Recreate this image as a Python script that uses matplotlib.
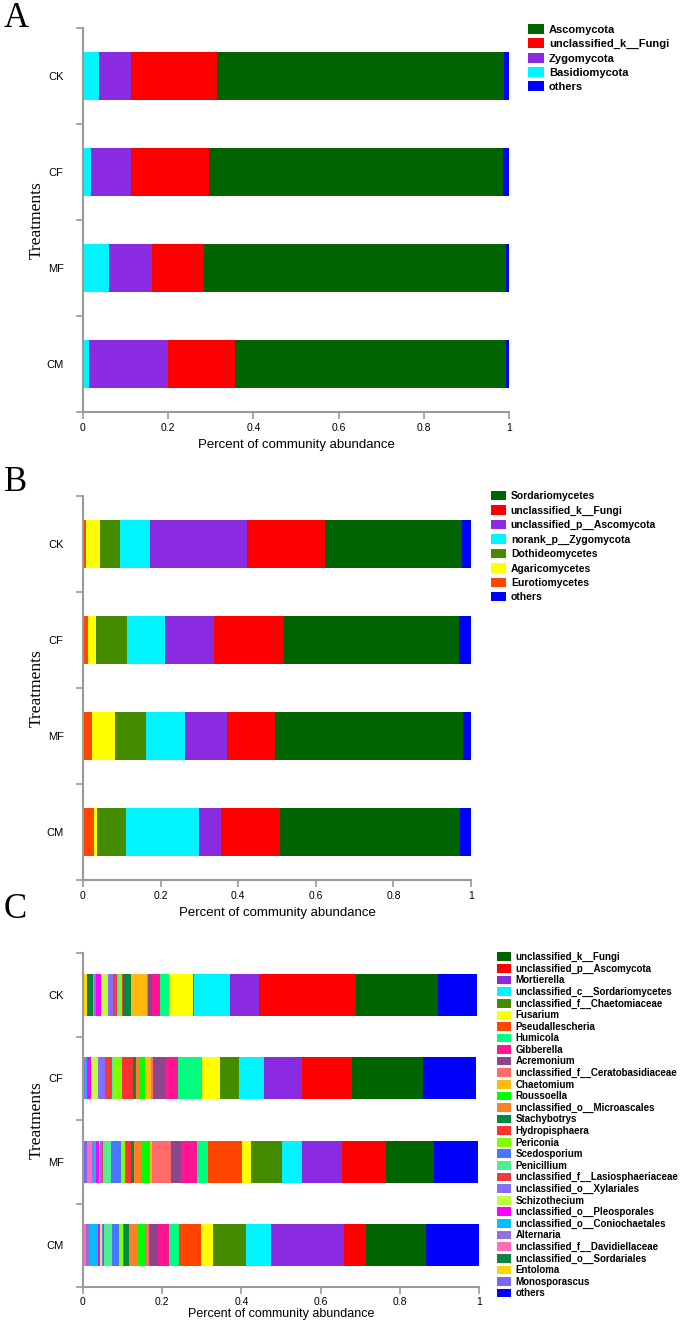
import numpy as np
import matplotlib
matplotlib.use("Agg")
import matplotlib.pyplot as plt
from matplotlib.patches import Patch

# -----------------------------
# DATA
# -----------------------------
treatments = ["CK", "CF", "MF", "CM"]

# panel A (phylum), legend order
phylum_names = ["Ascomycota", "unclassified_k__Fungi", "Zygomycota", "Basidiomycota", "others"]
phylum_colors = ["#006400", "#FF0000", "#8A2BE2", "#00F5FF", "#0000FF"]
phylum_CK = [0.674, 0.202, 0.074, 0.038, 0.012]
phylum_CF = [0.690, 0.183, 0.094, 0.019, 0.014]
phylum_MF = [0.709, 0.122, 0.101, 0.061, 0.007]
phylum_CM = [0.636, 0.157, 0.186, 0.014, 0.007]

# panel B (class)
class_names = ["Sordariomycetes", "unclassified_k__Fungi", "unclassified_p__Ascomycota",
               "norank_p__Zygomycota", "Dothideomycetes", "Agaricomycetes",
               "Eurotiomycetes", "others"]
class_colors = ["#006400", "#FF0000", "#8A2BE2", "#00F5FF", "#458B00", "#FFFF00",
                "#FF4500", "#0000FF"]
class_CK = [0.354, 0.202, 0.249, 0.078, 0.050, 0.036, 0.009, 0.022]
class_CF = [0.452, 0.179, 0.127, 0.098, 0.080, 0.019, 0.014, 0.031]
class_MF = [0.484, 0.124, 0.108, 0.101, 0.080, 0.059, 0.023, 0.021]
class_CM = [0.464, 0.152, 0.057, 0.188, 0.075, 0.008, 0.028, 0.028]

# panel C (genus)
genus_names = ["unclassified_k__Fungi", "unclassified_p__Ascomycota", "Mortierella",
               "unclassified_c__Sordariomycetes", "unclassified_f__Chaetomiaceae",
               "Fusarium", "Pseudallescheria", "Humicola", "Gibberella", "Acremonium",
               "unclassified_f__Ceratobasidiaceae", "Chaetomium", "Roussoella",
               "unclassified_o__Microascales", "Stachybotrys", "Hydropisphaera",
               "Periconia", "Scedosporium", "Penicillium",
               "unclassified_f__Lasiosphaeriaceae", "unclassified_o__Xylariales",
               "Schizothecium", "unclassified_o__Pleosporales",
               "unclassified_o__Coniochaetales", "Alternaria",
               "unclassified_f__Davidiellaceae", "unclassified_o__Sordariales",
               "Entoloma", "Monosporascus", "others"]
genus_colors = ["#006400", "#FF0000", "#8A2BE2", "#00F5FF", "#458B00",
                "#FFFF00", "#FF4500", "#00FF7F", "#FF1493", "#8B4789",
                "#FF6A6A", "#FFB90F", "#00FF00", "#FF7F24", "#008B45",
                "#FF3030", "#7FFF00", "#4876FF", "#4EEE94", "#EE3B3B",
                "#836FFF", "#C0FF3E", "#FF00FF", "#00BFFF", "#9370DB",
                "#FF6EB4", "#0E8040", "#FFD700", "#7B68EE", "#0000FF"]
genus_CK = [0.207, 0.245, 0.074, 0.090, 0.004, 0.061, 0.000, 0.021, 0.021, 0.010,
            0.003, 0.040, 0.000, 0.000, 0.020, 0.003, 0.008, 0.000, 0.003, 0.010,
            0.014, 0.017, 0.013, 0.000, 0.004, 0.005, 0.013, 0.010, 0.001, 0.099]
genus_CF = [0.179, 0.126, 0.095, 0.065, 0.048, 0.044, 0.000, 0.062, 0.032, 0.029,
            0.007, 0.015, 0.013, 0.009, 0.008, 0.027, 0.022, 0.000, 0.003, 0.019,
            0.018, 0.016, 0.011, 0.005, 0.002, 0.003, 0.000, 0.000, 0.000, 0.134]
genus_MF = [0.121, 0.111, 0.101, 0.050, 0.078, 0.023, 0.086, 0.027, 0.042, 0.025,
            0.049, 0.003, 0.024, 0.017, 0.008, 0.014, 0.012, 0.025, 0.020, 0.003,
            0.003, 0.004, 0.006, 0.008, 0.004, 0.012, 0.000, 0.000, 0.010, 0.111]
genus_CM = [0.152, 0.055, 0.185, 0.062, 0.084, 0.029, 0.057, 0.024, 0.028, 0.024,
            0.010, 0.000, 0.018, 0.022, 0.012, 0.004, 0.010, 0.017, 0.020, 0.003,
            0.003, 0.005, 0.003, 0.022, 0.010, 0.007, 0.000, 0.000, 0.000, 0.136]

# -----------------------------
# FIGURE
# -----------------------------
W, H = 685, 1324
fig = plt.figure(figsize=(W / 100, H / 100), dpi=100)
sans = "Liberation Sans"
serif = "Liberation Serif"
spine_col = "#9a9a9a"


def panel(rect_px, names, colors, rows, letter, letter_y, leg_px, leg_fs, leg_sp,
          xl_fs=9.5, xl_pad=4, xt_pad=3):
    x0, top, x1, bottom = rect_px
    ax = fig.add_axes([x0 / W, 1 - bottom / H, (x1 - x0) / W, (bottom - top) / H])
    vals = np.array(rows)  # treatments x taxa
    ypos = np.arange(len(treatments))
    left = np.zeros(len(treatments))
    # stack: reverse legend order without "others", then "others" at the right
    order = list(range(len(names) - 2, -1, -1)) + [len(names) - 1]
    for i in order:
        ax.barh(ypos, vals[:, i], left=left, height=0.5, color=colors[i], linewidth=0)
        left += vals[:, i]

    ax.set_xlim(0, 1)
    ax.set_ylim(len(treatments) - 0.5, -0.5)
    ax.set_xticks([0, 0.2, 0.4, 0.6, 0.8, 1])
    ax.set_xticklabels(["0", "0.2", "0.4", "0.6", "0.8", "1"], fontfamily=sans, fontsize=7.5)
    ax.set_yticks(ypos)
    ax.set_yticklabels(treatments, fontfamily=sans, fontsize=8)
    ax.set_yticks(np.arange(len(treatments) + 1) - 0.5, minor=True)
    ax.tick_params(axis="y", which="major", length=0, pad=14)
    ax.tick_params(axis="y", which="minor", length=5, color=spine_col, width=1.2)
    ax.tick_params(axis="x", length=5, color=spine_col, width=1.2, pad=xt_pad)
    for s in ["top", "right"]:
        ax.spines[s].set_visible(False)
    for s in ["left", "bottom"]:
        ax.spines[s].set_color(spine_col)
        ax.spines[s].set_linewidth(1.5)
    ax.set_xlabel("Percent of community abundance", fontfamily=sans, fontsize=xl_fs, labelpad=xl_pad)
    ax.set_ylabel("Treatments", fontfamily=serif, fontsize=12.5)
    ax.yaxis.set_label_coords((45 - x0) / (x1 - x0), 0.5)

    fig.text(4 / W, 1 - letter_y / H, letter, fontfamily=serif, fontsize=25, va="top", ha="left")

    handles = [Patch(facecolor=c, edgecolor="none") for c in colors]
    ax.legend(handles, names, loc="upper left",
              bbox_to_anchor=(leg_px[0] / W, 1 - leg_px[1] / H), bbox_transform=fig.transFigure,
              frameon=False, borderpad=0, borderaxespad=0, handlelength=1.4, handleheight=1.0,
              handletextpad=0.5, labelspacing=leg_sp,
              prop={"family": sans, "weight": "bold", "size": leg_fs})
    return ax


panel((83, 28, 509, 412), phylum_names, phylum_colors,
      [phylum_CK, phylum_CF, phylum_MF, phylum_CM], "A", 2, (528, 24), 8, 0.32)
panel((83, 496, 471, 880), class_names, class_colors,
      [class_CK, class_CF, class_MF, class_CM], "B", 466, (491, 491), 7.5, 0.4)
panel((83, 953, 479, 1287), genus_names, genus_colors,
      [genus_CK, genus_CF, genus_MF, genus_CM], "C", 893, (497, 952), 7, 0.16,
      xl_fs=9, xl_pad=1, xt_pad=2)

fig.savefig("out.png", dpi=100)
